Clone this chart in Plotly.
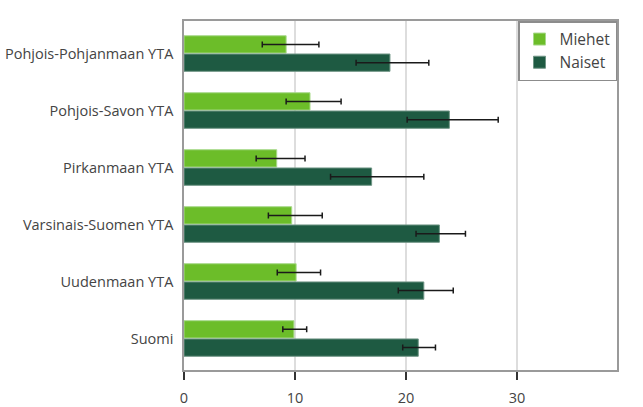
import plotly.graph_objects as go

categories = ["Pohjois-Pohjanmaan YTA", "Pohjois-Savon YTA", "Pirkanmaan YTA",
              "Varsinais-Suomen YTA", "Uudenmaan YTA", "Suomi"]

miehet = [9.2, 11.35, 8.35, 9.7, 10.1, 9.9]
miehet_low = [7.05, 9.2, 6.5, 7.6, 8.4, 8.9]
miehet_high = [12.15, 14.15, 10.9, 12.45, 12.3, 11.05]

naiset = [18.55, 23.9, 16.9, 23.0, 21.6, 21.1]
naiset_low = [15.5, 20.1, 13.2, 20.9, 19.3, 19.7]
naiset_high = [22.05, 28.3, 21.6, 25.35, 24.25, 22.65]

x_ticks = [0, 10, 20, 30]

font_family = "Open Sans, Inter, sans-serif"


def err(vals, lows, highs):
    return dict(type="data", symmetric=False,
                array=[h - v for v, h in zip(vals, highs)],
                arrayminus=[v - l for v, l in zip(vals, lows)],
                color="#1a1a1a", thickness=1.5, width=3)


fig = go.Figure()
fig.add_trace(go.Bar(
    name="Miehet", y=categories, x=miehet, orientation="h",
    marker=dict(color="#6cbd29", line=dict(color="#a7d98a", width=1)),
    error_x=err(miehet, miehet_low, miehet_high),
))
fig.add_trace(go.Bar(
    name="Naiset", y=categories, x=naiset, orientation="h",
    marker=dict(color="#1e5a42", line=dict(color="#6f9585", width=1)),
    error_x=err(naiset, naiset_low, naiset_high),
))

fig.update_layout(
    width=643, height=407,
    margin=dict(l=184, r=26, t=21, b=37, autoexpand=False),
    barmode="group", bargap=0.36, bargroupgap=0.05,
    plot_bgcolor="white", paper_bgcolor="white",
    font=dict(family=font_family, size=14.5, color="#444444"),
    showlegend=True,
    legend=dict(x=1, xanchor="right", y=1, yanchor="top",
                bordercolor="#8c8c8c", borderwidth=1.5, bgcolor="white",
                font=dict(size=15.5, color="#444444"),
                traceorder="normal"),
    xaxis=dict(range=[0, 39], tickvals=x_ticks, showgrid=True,
               gridcolor="#dddddd", gridwidth=1.5, zeroline=False,
               showline=True, linecolor="#9a9a9a", linewidth=1.5, mirror=True,
               ticks="outside", ticklen=8, tickwidth=1.5, tickcolor="#333333",
               ticklabelstandoff=6, automargin=False),
    yaxis=dict(range=[5.553, -0.571], showgrid=False, zeroline=False,
               showline=True, linecolor="#9a9a9a", linewidth=1.5, mirror=True,
               ticks="", ticklabelstandoff=6, automargin=False),
)

fig.write_html("out.html")
